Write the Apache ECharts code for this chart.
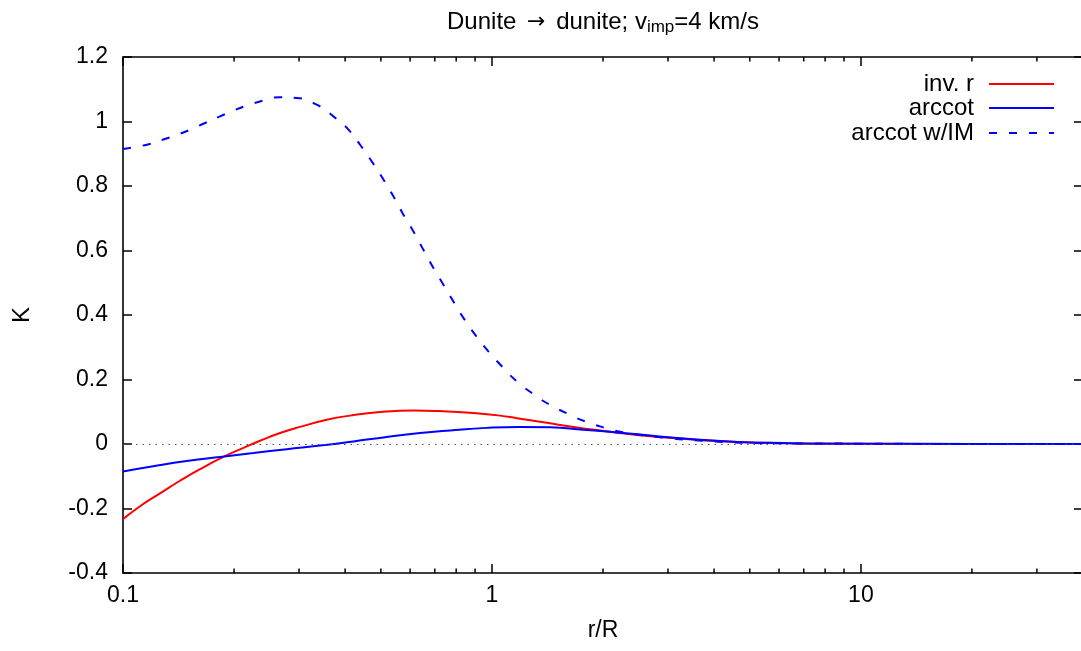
<!DOCTYPE html>
<html>
<head>
<meta charset="utf-8">
<title>Dunite → dunite</title>
<script src="https://cdn.jsdelivr.net/npm/echarts@6/dist/echarts.min.js"></script>
<style>
  html, body { margin: 0; padding: 0; background: #fff; }
  #chart { width: 1081px; height: 651px; }
</style>
</head>
<body>
<div id="chart"></div>
<script>
// r/R sample positions and kernel values K for each model
const invR_r = [0.1, 0.1112, 0.126, 0.1427, 0.1617, 0.1871, 0.212, 0.2352, 0.2665, 0.3019,
  0.3567, 0.4126, 0.4977, 0.6126, 0.7239, 0.8912, 1.0524, 1.1683, 1.2962, 1.4384,
  1.5963, 1.7706, 1.9651, 2.1815, 2.6853, 3.3059, 4.0718, 5.0128, 6.171, 10, 20, 40];
const invR_K = [-0.233, -0.193, -0.153, -0.114, -0.078, -0.040, -0.012, 0.010, 0.034, 0.053,
  0.075, 0.088, 0.099, 0.104, 0.102, 0.096, 0.088, 0.080, 0.072, 0.064,
  0.056, 0.048, 0.042, 0.035, 0.024, 0.016, 0.009, 0.005, 0.002, 0.001, 0, 0];

const arccot_r = [0.1, 0.1208, 0.1488, 0.1832, 0.2256, 0.2779, 0.3422, 0.4212, 0.5189, 0.6387,
  0.7704, 0.9685, 1.1928, 1.4384, 1.7706, 2.1815, 2.6853, 3.3059, 4.0718, 5.0128,
  6.171, 8, 10, 20, 40];
const arccot_K = [-0.085, -0.069, -0.053, -0.040, -0.028, -0.016, -0.005, 0.008, 0.022, 0.034,
  0.042, 0.050, 0.053, 0.052, 0.044, 0.036, 0.026, 0.017, 0.010, 0.005,
  0.003, 0.001, 0.001, 0, 0];

const arccotIM_r = [0.1, 0.116, 0.1286, 0.1457, 0.1651, 0.1832, 0.2076, 0.2352, 0.2665, 0.2958,
  0.3352, 0.3717, 0.4083, 0.4391, 0.4725, 0.508, 0.5406, 0.5754, 0.6126, 0.652,
  0.694, 0.7387, 0.7862, 0.8369, 0.9003, 0.978, 1.0636, 1.1683, 1.2833, 1.4231,
  1.5963, 1.7889, 2.0277, 2.2734, 2.917, 3.746, 4.799, 6.5, 10, 20, 40];
const arccotIM_K = [0.915, 0.928, 0.944, 0.966, 0.993, 1.016, 1.042, 1.062, 1.075, 1.073,
  1.052, 1.016, 0.975, 0.928, 0.876, 0.820, 0.768, 0.711, 0.659, 0.602,
  0.546, 0.494, 0.442, 0.391, 0.339, 0.287, 0.241, 0.194, 0.158, 0.124,
  0.095, 0.070, 0.050, 0.036, 0.020, 0.010, 0.004, 0.002, 0.001, 0, 0];

const seriesNames = ['inv. r', 'arccot', 'arccot w/IM'];
const xLimits = [0.1, 40];
const yLimits = [-0.4, 1.2];
const yStep = 0.2;
// log-axis minor tick positions (2..9 per decade)
const minorTicks = [0.2, 0.3, 0.4, 0.5, 0.6, 0.7, 0.8, 0.9, 2, 3, 4, 5, 6, 7, 8, 9, 20, 30];

const FONT = "'Liberation Sans', Arial, Helvetica, sans-serif";
const FS = 23;
const zip = (xs, ys) => xs.map((x, i) => [x, ys[i]]);

const chart = echarts.init(document.getElementById('chart'), null, { renderer: 'canvas' });

const axisLine = { show: true, onZero: false, lineStyle: { color: '#000', width: 1.6 } };
const majorTick = { show: true, inside: true, length: 9, lineStyle: { color: '#000', width: 1.5 } };

function legendFor(name, top) {
  return {
    data: [name],
    right: 26,
    top: top,
    padding: 0,
    align: 'right',
    itemWidth: 65,
    itemHeight: 14,
    selectedMode: false,
    itemStyle: { opacity: 0 },
    textStyle: { fontFamily: FONT, fontSize: 24, color: '#000', padding: [0, 10, 0, 0] }
  };
}

chart.setOption({
  animation: false,
  backgroundColor: '#fff',
  title: {
    text: 'Dunite {arr|→} dunite; v{sub|imp}=4 km/s',
    left: 598,
    top: 3,
    textAlign: 'center',
    textStyle: {
      fontFamily: FONT, fontSize: 24, fontWeight: 'normal', color: '#000', lineHeight: 28,
      rich: {
        arr: { fontFamily: "'DejaVu Sans', sans-serif", fontSize: 22, lineHeight: 28, padding: [0, 4, 0, 4], color: '#000' },
        sub: { fontFamily: FONT, fontSize: 17, lineHeight: 14, verticalAlign: 'bottom', color: '#000' }
      }
    }
  },
  legend: [legendFor(seriesNames[0], 72), legendFor(seriesNames[1], 96), legendFor(seriesNames[2], 121)],
  grid: { left: 123, right: -2, top: 57, bottom: 78, containLabel: false, outerBoundsMode: 'none' },
  xAxis: [
    {
      type: 'log', logBase: 10, min: xLimits[0], max: xLimits[1], position: 'bottom',
      name: 'r/R', nameLocation: 'middle', nameGap: 46,
      nameTextStyle: { fontFamily: FONT, fontSize: FS, color: '#000' },
      axisLine: axisLine, axisTick: majorTick, splitLine: { show: false }, minorTick: { show: false },
      axisLabel: { fontFamily: FONT, fontSize: FS, color: '#000', margin: 11, showMaxLabel: false,
        formatter: v => String(+v.toPrecision(6)) }
    },
    {
      type: 'log', logBase: 10, min: xLimits[0], max: xLimits[1], position: 'top',
      axisLine: axisLine, axisTick: majorTick, axisLabel: { show: false }, splitLine: { show: false }
    }
  ],
  yAxis: [
    {
      type: 'value', min: yLimits[0], max: yLimits[1], interval: yStep, position: 'left',
      name: 'K', nameLocation: 'middle', nameGap: 89, nameRotate: 90,
      nameTextStyle: { fontFamily: FONT, fontSize: FS + 1, color: '#000' },
      axisLine: axisLine, axisTick: majorTick, splitLine: { show: false },
      axisLabel: { fontFamily: FONT, fontSize: FS, color: '#000', margin: 15 }
    },
    {
      type: 'value', min: yLimits[0], max: yLimits[1], interval: yStep, position: 'right',
      axisLine: axisLine, axisTick: majorTick, axisLabel: { show: false }, splitLine: { show: false }
    }
  ],
  series: [
    {
      name: seriesNames[0], type: 'line', data: zip(invR_r, invR_K),
      smooth: 0.5, symbol: 'none', z: 3,
      lineStyle: { color: '#ff0000', width: 2 }, itemStyle: { color: '#ff0000' },
      markLine: {
        silent: true, symbol: 'none', label: { show: false }, animation: false,
        lineStyle: { color: '#555', width: 1.2, type: [1.5, 5] },
        data: [{ yAxis: 0 }]
      }
    },
    {
      name: seriesNames[1], type: 'line', data: zip(arccot_r, arccot_K),
      smooth: 0.5, symbol: 'none', z: 4,
      lineStyle: { color: '#0000ff', width: 2 }, itemStyle: { color: '#0000ff' }
    },
    {
      name: seriesNames[2], type: 'line', data: zip(arccotIM_r, arccotIM_K),
      smooth: 0.5, symbol: 'none', z: 5,
      lineStyle: { color: '#0000ff', width: 2, type: [8, 12] }, itemStyle: { color: '#0000ff' }
    },
    {
      // minor ticks of the log axis, mirrored on the top edge
      type: 'custom', silent: true, clip: false, z: 10,
      data: minorTicks.map(v => [v, 0]),
      renderItem: (params, api) => {
        const v = api.value(0);
        const pb = api.coord([v, yLimits[0]]);
        const pt = api.coord([v, yLimits[1]]);
        const st = { stroke: '#000', lineWidth: 1.5 };
        return {
          type: 'group',
          children: [
            { type: 'line', shape: { x1: pb[0], y1: pb[1], x2: pb[0], y2: pb[1] - 4.5 }, style: st },
            { type: 'line', shape: { x1: pt[0], y1: pt[1], x2: pt[0], y2: pt[1] + 4.5 }, style: st }
          ]
        };
      }
    }
  ]
});
</script>
</body>
</html>
